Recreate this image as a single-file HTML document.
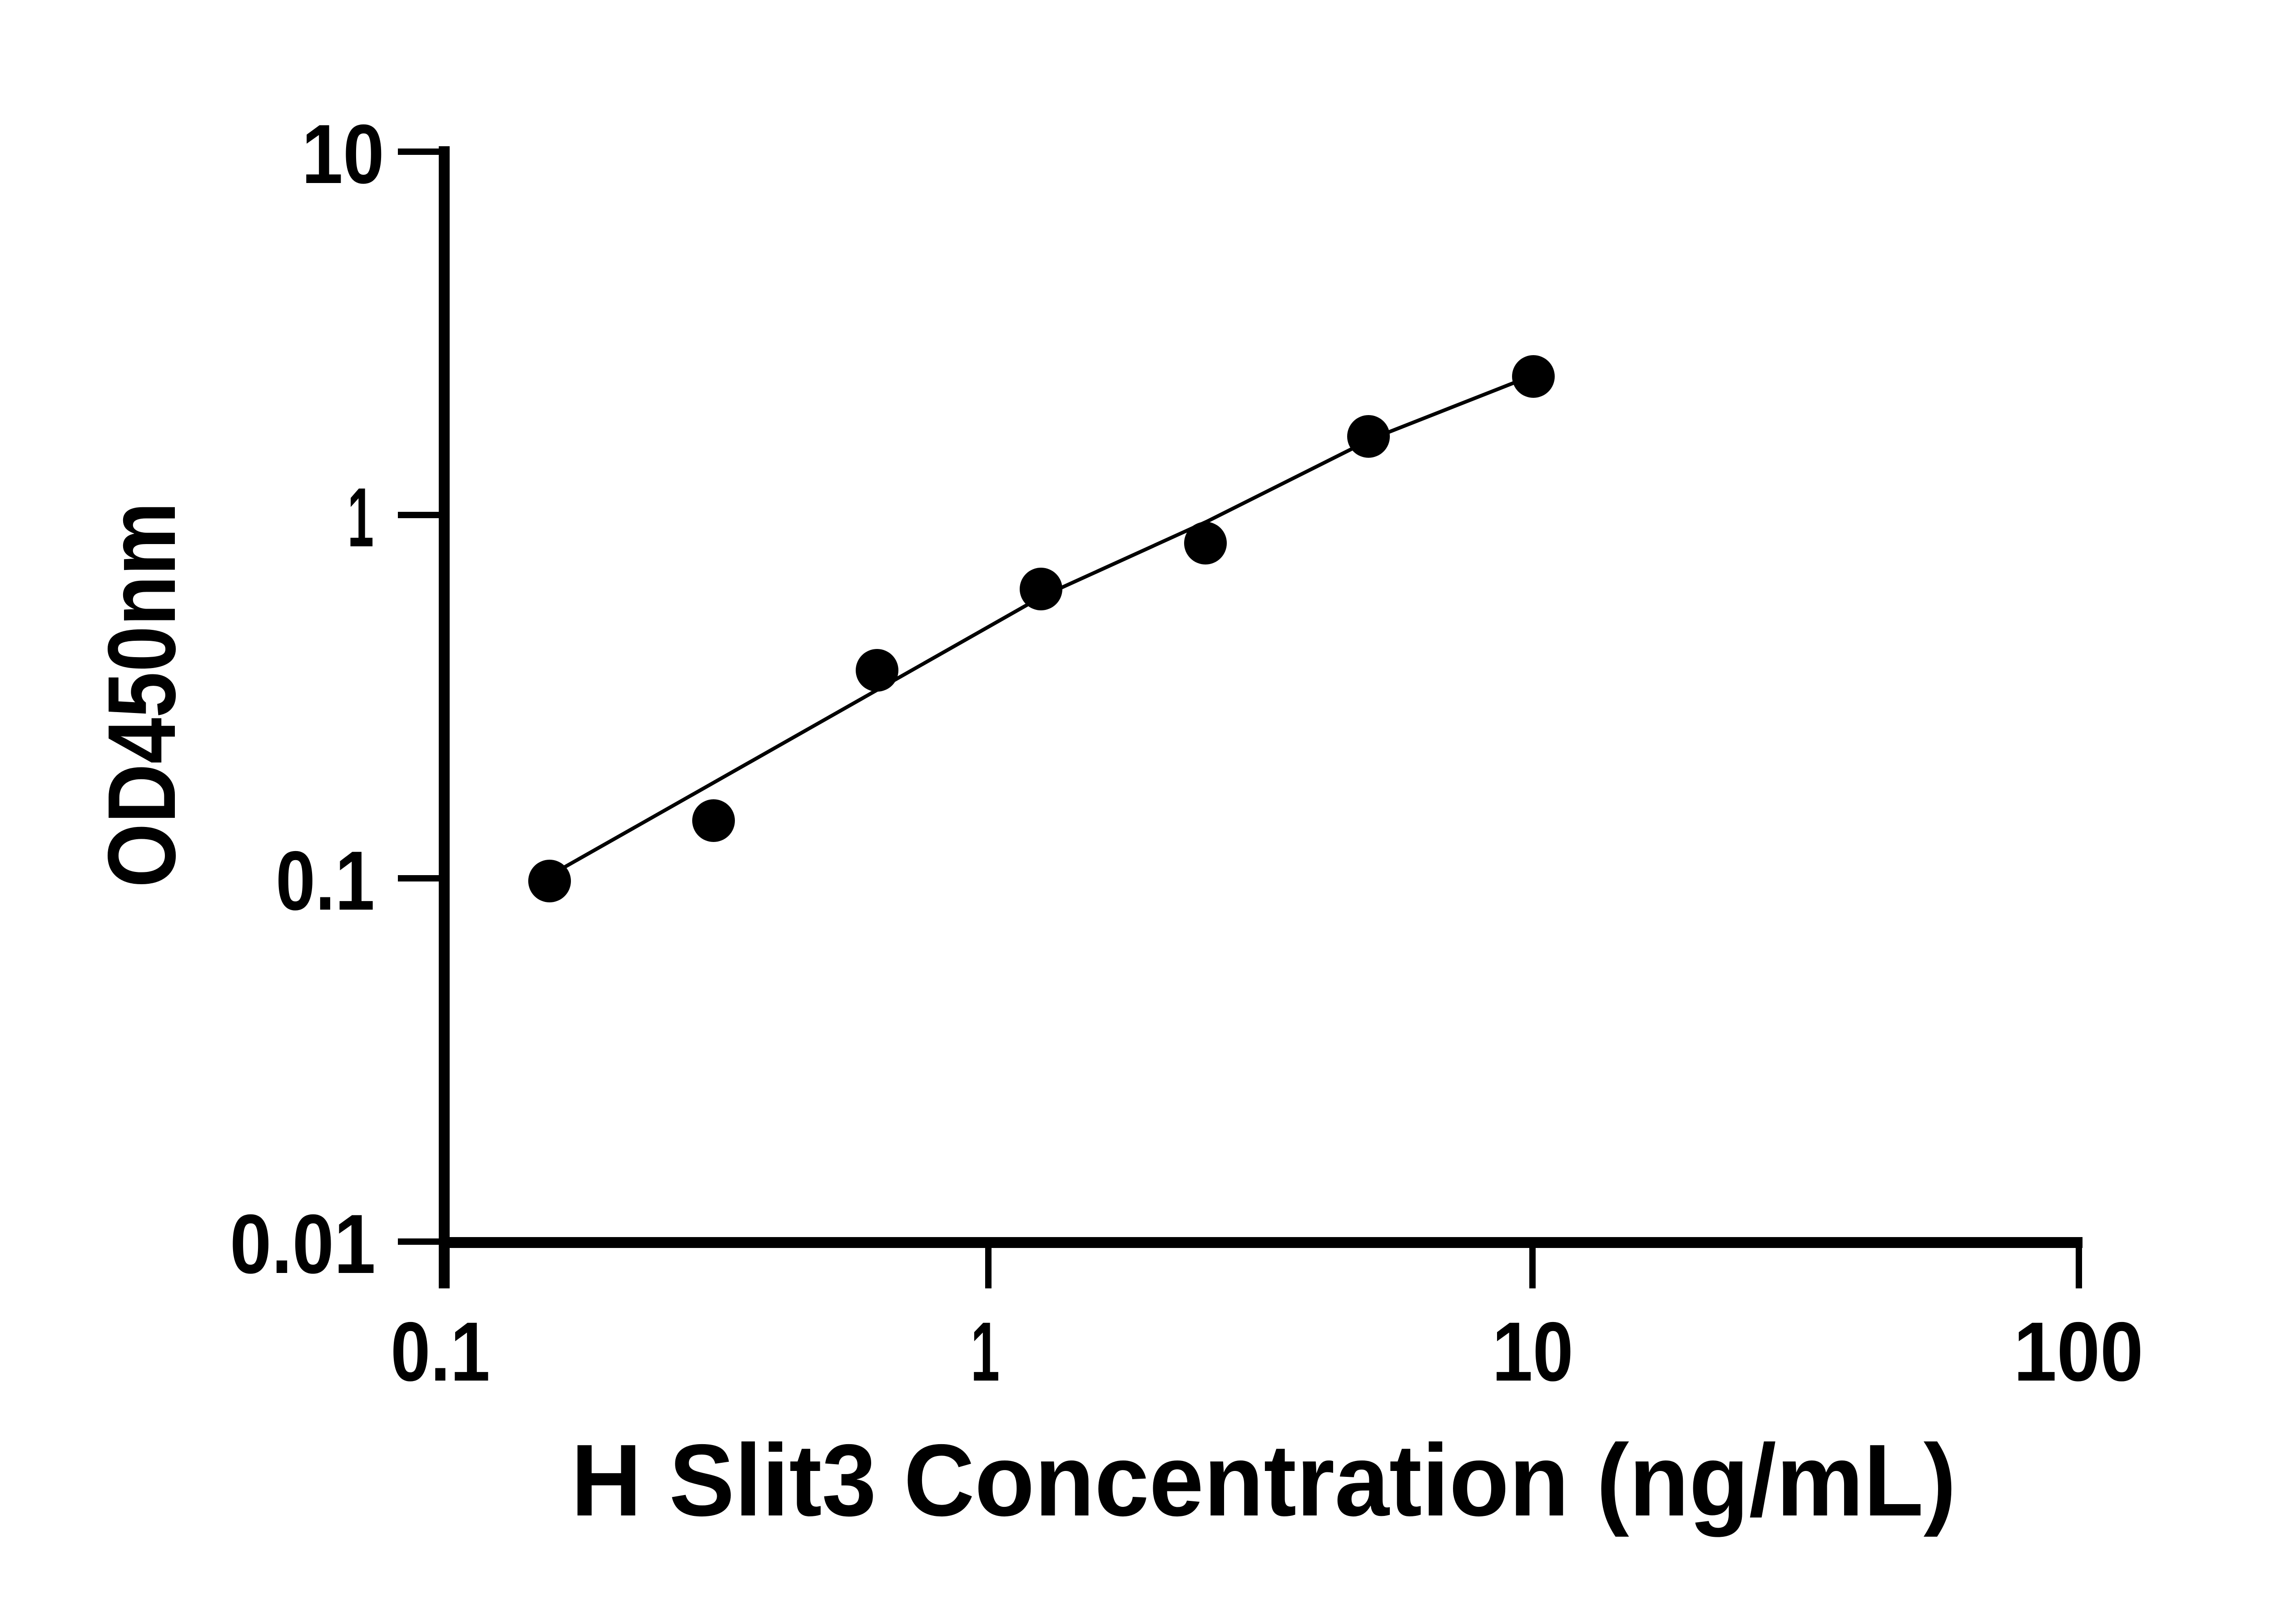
<!DOCTYPE html>
<html><head><style>html,body{margin:0;padding:0;background:#fff;}svg{display:block}</style></head>
<body>
<svg width="5130" height="3576" viewBox="0 0 5130 3576" xmlns="http://www.w3.org/2000/svg">
<g stroke="#000" fill="none" stroke-linecap="butt">
<line x1="978" y1="322" x2="978" y2="2837" stroke-width="24"/>
<line x1="966" y1="2736" x2="4585" y2="2736" stroke-width="24"/>
<line x1="876" y1="334" x2="990" y2="334" stroke-width="14"/>
<line x1="876" y1="1134" x2="978" y2="1134" stroke-width="14"/>
<line x1="876" y1="1934" x2="978" y2="1934" stroke-width="14"/>
<line x1="876" y1="2734" x2="978" y2="2734" stroke-width="14"/>
<line x1="2176" y1="2736" x2="2176" y2="2837" stroke-width="14"/>
<line x1="3374" y1="2736" x2="3374" y2="2837" stroke-width="14"/>
<line x1="4577" y1="2736" x2="4577" y2="2837" stroke-width="14"/>
<polyline stroke-width="8" stroke-linejoin="round" points="1212,1935 1240,1911 1563,1728 1928,1521 2293,1314 2658,1148 3023,965 3338,841 3376,822"/>
</g>
<g fill="#000">
<circle cx="1210" cy="1940" r="47"/><circle cx="1571" cy="1807" r="47"/><circle cx="1931" cy="1476" r="47"/>
<circle cx="2292" cy="1297" r="47"/><circle cx="2654" cy="1196" r="47"/><circle cx="3013" cy="961" r="47"/><circle cx="3376" cy="829" r="47"/>
</g>
<g font-family="Liberation Sans, sans-serif" font-weight="bold" fill="#000" font-size="185">
<text x="664" y="403" textLength="182" lengthAdjust="spacingAndGlyphs">10</text>
<text x="765" y="1203" textLength="58" lengthAdjust="spacingAndGlyphs">1</text>
<text x="607" y="2003" textLength="218" lengthAdjust="spacingAndGlyphs">0.1</text>
<text x="506" y="2803" textLength="321" lengthAdjust="spacingAndGlyphs">0.01</text>
<text x="860" y="3040" textLength="219" lengthAdjust="spacingAndGlyphs">0.1</text>
<text x="2137" y="3040" textLength="64" lengthAdjust="spacingAndGlyphs">1</text>
<text x="3285" y="3040" textLength="179" lengthAdjust="spacingAndGlyphs">10</text>
<text x="4433" y="3040" textLength="286" lengthAdjust="spacingAndGlyphs">100</text>
<text x="1257" y="3337" font-size="225" textLength="3050" lengthAdjust="spacingAndGlyphs">H Slit3 Concentration (ng/mL)</text>
<text transform="translate(385,1530) rotate(-90)" text-anchor="middle" font-size="212" textLength="849" lengthAdjust="spacingAndGlyphs">OD450nm</text>
</g>
</svg>
</body></html>
